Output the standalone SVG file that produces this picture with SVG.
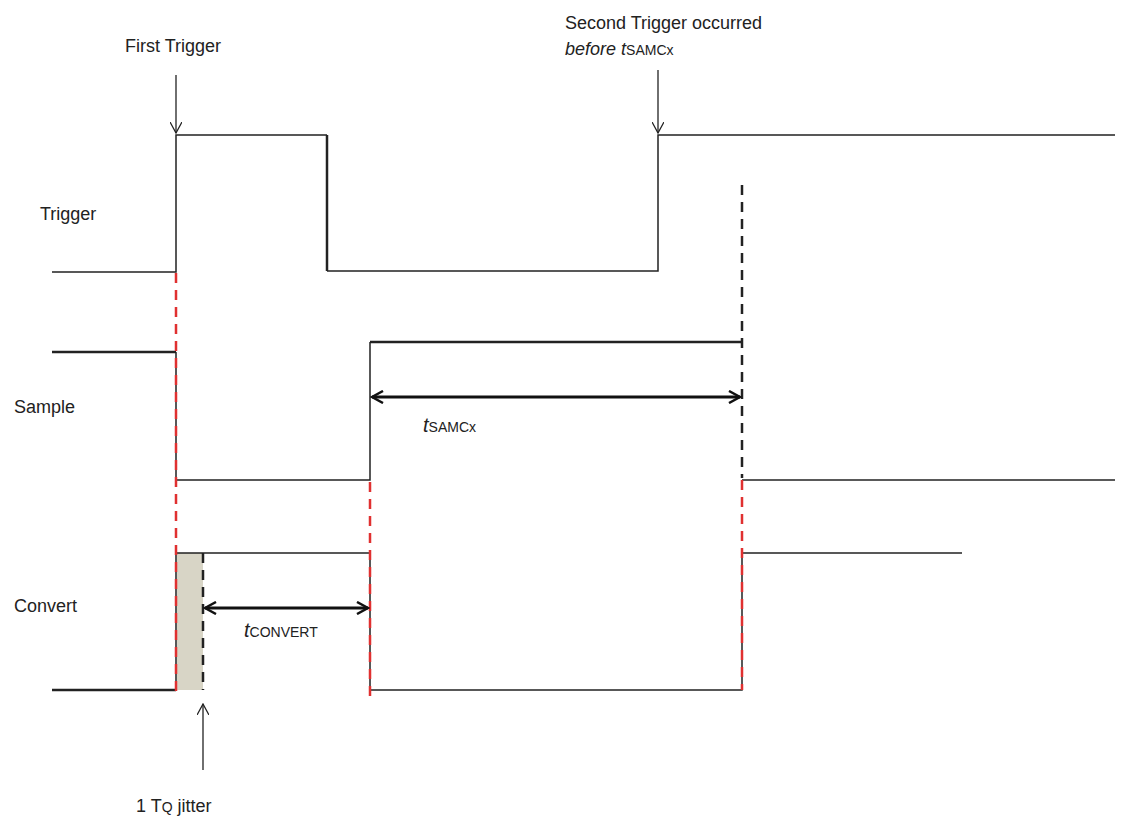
<svg xmlns="http://www.w3.org/2000/svg" width="1121" height="826" viewBox="0 0 1121 826">
<style>
.t{font-family:"Liberation Sans",Arial,sans-serif;font-size:18px;fill:#222}
.s{font-size:14px}
.w{fill:none;stroke:#222;stroke-width:1.5}
.wt{fill:none;stroke:#222;stroke-width:2.5}
.rd{stroke:#e03030;stroke-width:2.5;stroke-dasharray:10 7;fill:none}
.bd{stroke:#222;stroke-width:2.5;stroke-dasharray:10 7;fill:none}
.ar{stroke:#222;stroke-width:1.3;fill:none}
.dim{stroke:#111;stroke-width:3;fill:none}
</style>
<defs>
<marker id="v" viewBox="0 0 12 12" refX="11" refY="6" markerWidth="12" markerHeight="12" markerUnits="userSpaceOnUse" orient="auto"><path d="M0,0 L11,6 L0,12" fill="none" stroke="#222" stroke-width="1.3"/></marker>
<marker id="d" viewBox="0 0 14 14" refX="12" refY="7" markerWidth="14" markerHeight="14" markerUnits="userSpaceOnUse" orient="auto-start-reverse"><path d="M1,1 L12,7 L1,13" fill="none" stroke="#111" stroke-width="2.5"/></marker>
</defs>
<g id="labels">
<text class="t" x="125" y="52">First Trigger</text>
<text class="t" x="565" y="29">Second Trigger occurred</text>
<text class="t" x="565" y="55"><tspan font-style="italic">before t</tspan><tspan class="s">SAMCx</tspan></text>
<text class="t" x="40" y="220">Trigger</text>
<text class="t" x="14" y="413">Sample</text>
<text class="t" x="14" y="612">Convert</text>
<text class="t" x="423" y="432"><tspan font-style="italic" font-size="20">t</tspan><tspan class="s">SAMCx</tspan></text>
<text class="t" x="244" y="637"><tspan font-style="italic" font-size="20">t</tspan><tspan class="s">CONVERT</tspan></text>
<text class="t" x="136" y="812">1 T<tspan font-size="14">Q</tspan> jitter</text>
</g>
<g id="jitter"><rect x="177" y="553" width="26" height="137" fill="#d8d5c6"/></g>
<g id="waves">
<path class="w" d="M52,272 H176 V135 H327"/>
<path class="wt" d="M327,135 V271"/>
<path class="w" d="M327,271 H658 V135 H1115"/>
<path class="wt" d="M52,352 H176"/>
<path class="w" d="M176,352 V480 H370 V342"/>
<path class="wt" d="M370,342 H742"/>
<path class="w" d="M742,480 H1115"/>
<path class="wt" d="M52,690 H176"/>
<path class="w" d="M176,690 V553 H370 V690 H742 V553 H962"/>
</g>
<g id="connectors">
<line class="ar" x1="176" y1="75" x2="176" y2="133" marker-end="url(#v)"/>
<line class="ar" x1="658" y1="70" x2="658" y2="133" marker-end="url(#v)"/>
<line class="ar" x1="203" y1="770" x2="203" y2="704" marker-end="url(#v)"/>
<line class="rd" x1="176" y1="273" x2="176" y2="697"/>
<line class="rd" x1="370" y1="482" x2="370" y2="700"/>
<line class="bd" x1="742" y1="185" x2="742" y2="478"/>
<line class="rd" x1="742" y1="480" x2="742" y2="690"/>
<line class="bd" x1="203" y1="553" x2="203" y2="690"/>
<line class="dim" x1="205" y1="608" x2="368" y2="608" marker-start="url(#d)" marker-end="url(#d)"/>
<line class="dim" x1="372" y1="397" x2="740" y2="397" marker-start="url(#d)" marker-end="url(#d)"/>
</g>
</svg>
